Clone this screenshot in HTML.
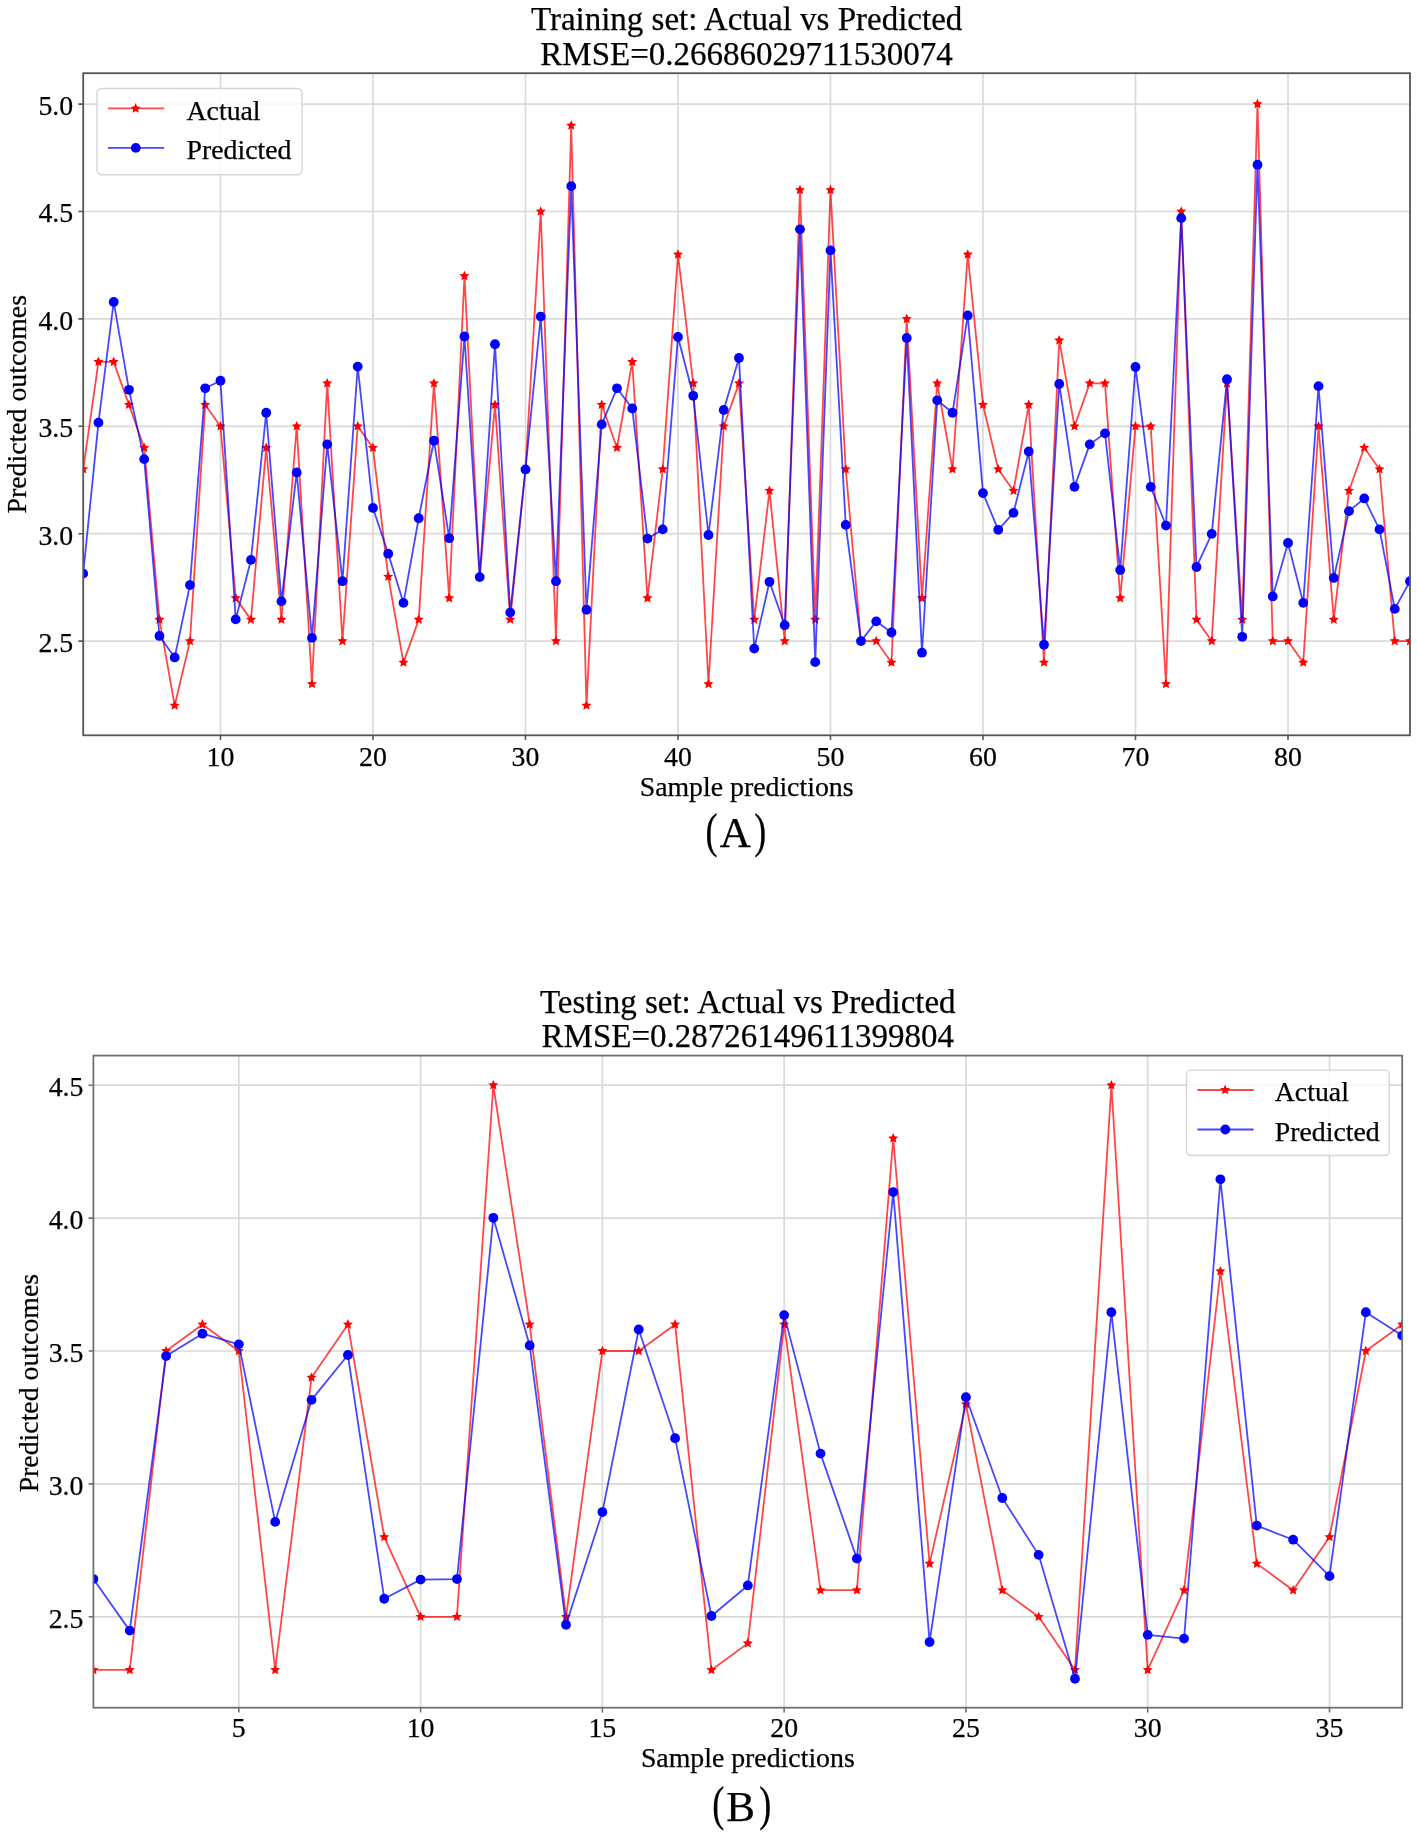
<!DOCTYPE html>
<html><head><meta charset="utf-8"><title>Actual vs Predicted</title>
<style>html,body{margin:0;padding:0;background:#fff;}body{width:1417px;height:1835px;overflow:hidden;font-family:"Liberation Serif",serif;}svg{display:block;filter:blur(0.45px);}text{stroke:#000;stroke-width:0.25px;}</style>
</head><body>
<svg width="1417" height="1835" viewBox="0 0 1417 1835" font-family='"Liberation Serif", serif' font-size="27.8" fill="#000">
<rect width="1417" height="1835" fill="#ffffff"/>
<clipPath id="ca"><rect x="83.2" y="73.2" width="1326.8" height="662.0999999999999"/></clipPath>
<path d="M220.46,73.2V735.3M372.96,73.2V735.3M525.47,73.2V735.3M677.97,73.2V735.3M830.48,73.2V735.3M982.98,73.2V735.3M1135.49,73.2V735.3M1288.00,73.2V735.3M83.2,641.10H1410.0M83.2,533.70H1410.0M83.2,426.30H1410.0M83.2,318.90H1410.0M83.2,211.50H1410.0M83.2,104.10H1410.0" stroke="#b0b0b0" stroke-opacity="0.47" stroke-width="1.7" fill="none"/>
<g clip-path="url(#ca)"><path d="M83.20,469.26L98.45,361.86L113.70,361.86L128.95,404.82L144.20,447.78L159.45,619.62L174.70,705.54L189.95,641.10L205.20,404.82L220.46,426.30L235.71,598.14L250.96,619.62L266.21,447.78L281.46,619.62L296.71,426.30L311.96,684.06L327.21,383.34L342.46,641.10L357.71,426.30L372.96,447.78L388.21,576.66L403.46,662.58L418.71,619.62L433.96,383.34L449.21,598.14L464.46,275.94L479.71,576.66L494.97,404.82L510.22,619.62L525.47,469.26L540.72,211.50L555.97,641.10L571.22,125.58L586.47,705.54L601.72,404.82L616.97,447.78L632.22,361.86L647.47,598.14L662.72,469.26L677.97,254.46L693.22,383.34L708.47,684.06L723.72,426.30L738.97,383.34L754.23,619.62L769.48,490.74L784.73,641.10L799.98,190.02L815.23,619.62L830.48,190.02L845.73,469.26L860.98,641.10L876.23,641.10L891.48,662.58L906.73,318.90L921.98,598.14L937.23,383.34L952.48,469.26L967.73,254.46L982.98,404.82L998.23,469.26L1013.49,490.74L1028.74,404.82L1043.99,662.58L1059.24,340.38L1074.49,426.30L1089.74,383.34L1104.99,383.34L1120.24,598.14L1135.49,426.30L1150.74,426.30L1165.99,684.06L1181.24,211.50L1196.49,619.62L1211.74,641.10L1226.99,383.34L1242.24,619.62L1257.49,104.10L1272.74,641.10L1288.00,641.10L1303.25,662.58L1318.50,426.30L1333.75,619.62L1349.00,490.74L1364.25,447.78L1379.50,469.26L1394.75,641.10L1410.00,641.10" stroke="#ff0000" stroke-opacity="0.72" stroke-width="1.8" fill="none" stroke-linejoin="round"/><path d="M83.20,463.96L84.66,467.24L88.24,467.62L85.57,470.03L86.32,473.55L83.20,471.75L80.08,473.55L80.83,470.03L78.16,467.62L81.74,467.24ZM98.45,356.56L99.91,359.84L103.49,360.22L100.82,362.63L101.57,366.15L98.45,364.35L95.34,366.15L96.08,362.63L93.41,360.22L96.99,359.84ZM113.70,356.56L115.17,359.84L118.74,360.22L116.07,362.63L116.82,366.15L113.70,364.35L110.59,366.15L111.33,362.63L108.66,360.22L112.24,359.84ZM128.95,399.52L130.42,402.80L133.99,403.18L131.32,405.59L132.07,409.11L128.95,407.31L125.84,409.11L126.58,405.59L123.91,403.18L127.49,402.80ZM144.20,442.48L145.67,445.76L149.24,446.14L146.57,448.55L147.32,452.07L144.20,450.27L141.09,452.07L141.83,448.55L139.16,446.14L142.74,445.76ZM159.45,614.32L160.92,617.60L164.49,617.98L161.82,620.39L162.57,623.91L159.45,622.11L156.34,623.91L157.08,620.39L154.41,617.98L157.99,617.60ZM174.70,700.24L176.17,703.52L179.74,703.90L177.07,706.31L177.82,709.83L174.70,708.03L171.59,709.83L172.33,706.31L169.66,703.90L173.24,703.52ZM189.95,635.80L191.42,639.08L194.99,639.46L192.32,641.87L193.07,645.39L189.95,643.59L186.84,645.39L187.58,641.87L184.91,639.46L188.49,639.08ZM205.20,399.52L206.67,402.80L210.25,403.18L207.57,405.59L208.32,409.11L205.20,407.31L202.09,409.11L202.84,405.59L200.16,403.18L203.74,402.80ZM220.46,421.00L221.92,424.28L225.50,424.66L222.82,427.07L223.57,430.59L220.46,428.79L217.34,430.59L218.09,427.07L215.41,424.66L218.99,424.28ZM235.71,592.84L237.17,596.12L240.75,596.50L238.07,598.91L238.82,602.43L235.71,600.63L232.59,602.43L233.34,598.91L230.67,596.50L234.24,596.12ZM250.96,614.32L252.42,617.60L256.00,617.98L253.33,620.39L254.07,623.91L250.96,622.11L247.84,623.91L248.59,620.39L245.92,617.98L249.49,617.60ZM266.21,442.48L267.67,445.76L271.25,446.14L268.58,448.55L269.32,452.07L266.21,450.27L263.09,452.07L263.84,448.55L261.17,446.14L264.74,445.76ZM281.46,614.32L282.92,617.60L286.50,617.98L283.83,620.39L284.57,623.91L281.46,622.11L278.34,623.91L279.09,620.39L276.42,617.98L279.99,617.60ZM296.71,421.00L298.17,424.28L301.75,424.66L299.08,427.07L299.82,430.59L296.71,428.79L293.59,430.59L294.34,427.07L291.67,424.66L295.24,424.28ZM311.96,678.76L313.42,682.04L317.00,682.42L314.33,684.83L315.07,688.35L311.96,686.55L308.84,688.35L309.59,684.83L306.92,682.42L310.49,682.04ZM327.21,378.04L328.67,381.32L332.25,381.70L329.58,384.11L330.32,387.63L327.21,385.83L324.09,387.63L324.84,384.11L322.17,381.70L325.75,381.32ZM342.46,635.80L343.92,639.08L347.50,639.46L344.83,641.87L345.58,645.39L342.46,643.59L339.34,645.39L340.09,641.87L337.42,639.46L341.00,639.08ZM357.71,421.00L359.17,424.28L362.75,424.66L360.08,427.07L360.83,430.59L357.71,428.79L354.60,430.59L355.34,427.07L352.67,424.66L356.25,424.28ZM372.96,442.48L374.43,445.76L378.00,446.14L375.33,448.55L376.08,452.07L372.96,450.27L369.85,452.07L370.59,448.55L367.92,446.14L371.50,445.76ZM388.21,571.36L389.68,574.64L393.25,575.02L390.58,577.43L391.33,580.95L388.21,579.15L385.10,580.95L385.84,577.43L383.17,575.02L386.75,574.64ZM403.46,657.28L404.93,660.56L408.50,660.94L405.83,663.35L406.58,666.87L403.46,665.07L400.35,666.87L401.09,663.35L398.42,660.94L402.00,660.56ZM418.71,614.32L420.18,617.60L423.75,617.98L421.08,620.39L421.83,623.91L418.71,622.11L415.60,623.91L416.34,620.39L413.67,617.98L417.25,617.60ZM433.96,378.04L435.43,381.32L439.00,381.70L436.33,384.11L437.08,387.63L433.96,385.83L430.85,387.63L431.59,384.11L428.92,381.70L432.50,381.32ZM449.21,592.84L450.68,596.12L454.25,596.50L451.58,598.91L452.33,602.43L449.21,600.63L446.10,602.43L446.84,598.91L444.17,596.50L447.75,596.12ZM464.46,270.64L465.93,273.92L469.50,274.30L466.83,276.71L467.58,280.23L464.46,278.43L461.35,280.23L462.10,276.71L459.42,274.30L463.00,273.92ZM479.71,571.36L481.18,574.64L484.76,575.02L482.08,577.43L482.83,580.95L479.71,579.15L476.60,580.95L477.35,577.43L474.67,575.02L478.25,574.64ZM494.97,399.52L496.43,402.80L500.01,403.18L497.33,405.59L498.08,409.11L494.97,407.31L491.85,409.11L492.60,405.59L489.92,403.18L493.50,402.80ZM510.22,614.32L511.68,617.60L515.26,617.98L512.59,620.39L513.33,623.91L510.22,622.11L507.10,623.91L507.85,620.39L505.18,617.98L508.75,617.60ZM525.47,463.96L526.93,467.24L530.51,467.62L527.84,470.03L528.58,473.55L525.47,471.75L522.35,473.55L523.10,470.03L520.43,467.62L524.00,467.24ZM540.72,206.20L542.18,209.48L545.76,209.86L543.09,212.27L543.83,215.79L540.72,213.99L537.60,215.79L538.35,212.27L535.68,209.86L539.25,209.48ZM555.97,635.80L557.43,639.08L561.01,639.46L558.34,641.87L559.08,645.39L555.97,643.59L552.85,645.39L553.60,641.87L550.93,639.46L554.50,639.08ZM571.22,120.28L572.68,123.56L576.26,123.94L573.59,126.35L574.33,129.87L571.22,128.07L568.10,129.87L568.85,126.35L566.18,123.94L569.75,123.56ZM586.47,700.24L587.93,703.52L591.51,703.90L588.84,706.31L589.58,709.83L586.47,708.03L583.35,709.83L584.10,706.31L581.43,703.90L585.00,703.52ZM601.72,399.52L603.18,402.80L606.76,403.18L604.09,405.59L604.83,409.11L601.72,407.31L598.60,409.11L599.35,405.59L596.68,403.18L600.26,402.80ZM616.97,442.48L618.43,445.76L622.01,446.14L619.34,448.55L620.09,452.07L616.97,450.27L613.85,452.07L614.60,448.55L611.93,446.14L615.51,445.76ZM632.22,356.56L633.68,359.84L637.26,360.22L634.59,362.63L635.34,366.15L632.22,364.35L629.11,366.15L629.85,362.63L627.18,360.22L630.76,359.84ZM647.47,592.84L648.94,596.12L652.51,596.50L649.84,598.91L650.59,602.43L647.47,600.63L644.36,602.43L645.10,598.91L642.43,596.50L646.01,596.12ZM662.72,463.96L664.19,467.24L667.76,467.62L665.09,470.03L665.84,473.55L662.72,471.75L659.61,473.55L660.35,470.03L657.68,467.62L661.26,467.24ZM677.97,249.16L679.44,252.44L683.01,252.82L680.34,255.23L681.09,258.75L677.97,256.95L674.86,258.75L675.60,255.23L672.93,252.82L676.51,252.44ZM693.22,378.04L694.69,381.32L698.26,381.70L695.59,384.11L696.34,387.63L693.22,385.83L690.11,387.63L690.85,384.11L688.18,381.70L691.76,381.32ZM708.47,678.76L709.94,682.04L713.51,682.42L710.84,684.83L711.59,688.35L708.47,686.55L705.36,688.35L706.10,684.83L703.43,682.42L707.01,682.04ZM723.72,421.00L725.19,424.28L728.76,424.66L726.09,427.07L726.84,430.59L723.72,428.79L720.61,430.59L721.36,427.07L718.68,424.66L722.26,424.28ZM738.97,378.04L740.44,381.32L744.02,381.70L741.34,384.11L742.09,387.63L738.97,385.83L735.86,387.63L736.61,384.11L733.93,381.70L737.51,381.32ZM754.23,614.32L755.69,617.60L759.27,617.98L756.59,620.39L757.34,623.91L754.23,622.11L751.11,623.91L751.86,620.39L749.18,617.98L752.76,617.60ZM769.48,485.44L770.94,488.72L774.52,489.10L771.84,491.51L772.59,495.03L769.48,493.23L766.36,495.03L767.11,491.51L764.44,489.10L768.01,488.72ZM784.73,635.80L786.19,639.08L789.77,639.46L787.10,641.87L787.84,645.39L784.73,643.59L781.61,645.39L782.36,641.87L779.69,639.46L783.26,639.08ZM799.98,184.72L801.44,188.00L805.02,188.38L802.35,190.79L803.09,194.31L799.98,192.51L796.86,194.31L797.61,190.79L794.94,188.38L798.51,188.00ZM815.23,614.32L816.69,617.60L820.27,617.98L817.60,620.39L818.34,623.91L815.23,622.11L812.11,623.91L812.86,620.39L810.19,617.98L813.76,617.60ZM830.48,184.72L831.94,188.00L835.52,188.38L832.85,190.79L833.59,194.31L830.48,192.51L827.36,194.31L828.11,190.79L825.44,188.38L829.01,188.00ZM845.73,463.96L847.19,467.24L850.77,467.62L848.10,470.03L848.84,473.55L845.73,471.75L842.61,473.55L843.36,470.03L840.69,467.62L844.26,467.24ZM860.98,635.80L862.44,639.08L866.02,639.46L863.35,641.87L864.09,645.39L860.98,643.59L857.86,645.39L858.61,641.87L855.94,639.46L859.52,639.08ZM876.23,635.80L877.69,639.08L881.27,639.46L878.60,641.87L879.35,645.39L876.23,643.59L873.11,645.39L873.86,641.87L871.19,639.46L874.77,639.08ZM891.48,657.28L892.94,660.56L896.52,660.94L893.85,663.35L894.60,666.87L891.48,665.07L888.37,666.87L889.11,663.35L886.44,660.94L890.02,660.56ZM906.73,313.60L908.20,316.88L911.77,317.26L909.10,319.67L909.85,323.19L906.73,321.39L903.62,323.19L904.36,319.67L901.69,317.26L905.27,316.88ZM921.98,592.84L923.45,596.12L927.02,596.50L924.35,598.91L925.10,602.43L921.98,600.63L918.87,602.43L919.61,598.91L916.94,596.50L920.52,596.12ZM937.23,378.04L938.70,381.32L942.27,381.70L939.60,384.11L940.35,387.63L937.23,385.83L934.12,387.63L934.86,384.11L932.19,381.70L935.77,381.32ZM952.48,463.96L953.95,467.24L957.52,467.62L954.85,470.03L955.60,473.55L952.48,471.75L949.37,473.55L950.11,470.03L947.44,467.62L951.02,467.24ZM967.73,249.16L969.20,252.44L972.77,252.82L970.10,255.23L970.85,258.75L967.73,256.95L964.62,258.75L965.36,255.23L962.69,252.82L966.27,252.44ZM982.98,399.52L984.45,402.80L988.02,403.18L985.35,405.59L986.10,409.11L982.98,407.31L979.87,409.11L980.61,405.59L977.94,403.18L981.52,402.80ZM998.23,463.96L999.70,467.24L1003.28,467.62L1000.60,470.03L1001.35,473.55L998.23,471.75L995.12,473.55L995.87,470.03L993.19,467.62L996.77,467.24ZM1013.49,485.44L1014.95,488.72L1018.53,489.10L1015.85,491.51L1016.60,495.03L1013.49,493.23L1010.37,495.03L1011.12,491.51L1008.44,489.10L1012.02,488.72ZM1028.74,399.52L1030.20,402.80L1033.78,403.18L1031.10,405.59L1031.85,409.11L1028.74,407.31L1025.62,409.11L1026.37,405.59L1023.70,403.18L1027.27,402.80ZM1043.99,657.28L1045.45,660.56L1049.03,660.94L1046.36,663.35L1047.10,666.87L1043.99,665.07L1040.87,666.87L1041.62,663.35L1038.95,660.94L1042.52,660.56ZM1059.24,335.08L1060.70,338.36L1064.28,338.74L1061.61,341.15L1062.35,344.67L1059.24,342.87L1056.12,344.67L1056.87,341.15L1054.20,338.74L1057.77,338.36ZM1074.49,421.00L1075.95,424.28L1079.53,424.66L1076.86,427.07L1077.60,430.59L1074.49,428.79L1071.37,430.59L1072.12,427.07L1069.45,424.66L1073.02,424.28ZM1089.74,378.04L1091.20,381.32L1094.78,381.70L1092.11,384.11L1092.85,387.63L1089.74,385.83L1086.62,387.63L1087.37,384.11L1084.70,381.70L1088.27,381.32ZM1104.99,378.04L1106.45,381.32L1110.03,381.70L1107.36,384.11L1108.10,387.63L1104.99,385.83L1101.87,387.63L1102.62,384.11L1099.95,381.70L1103.52,381.32ZM1120.24,592.84L1121.70,596.12L1125.28,596.50L1122.61,598.91L1123.35,602.43L1120.24,600.63L1117.12,602.43L1117.87,598.91L1115.20,596.50L1118.77,596.12ZM1135.49,421.00L1136.95,424.28L1140.53,424.66L1137.86,427.07L1138.60,430.59L1135.49,428.79L1132.37,430.59L1133.12,427.07L1130.45,424.66L1134.03,424.28ZM1150.74,421.00L1152.20,424.28L1155.78,424.66L1153.11,427.07L1153.86,430.59L1150.74,428.79L1147.62,430.59L1148.37,427.07L1145.70,424.66L1149.28,424.28ZM1165.99,678.76L1167.45,682.04L1171.03,682.42L1168.36,684.83L1169.11,688.35L1165.99,686.55L1162.88,688.35L1163.62,684.83L1160.95,682.42L1164.53,682.04ZM1181.24,206.20L1182.71,209.48L1186.28,209.86L1183.61,212.27L1184.36,215.79L1181.24,213.99L1178.13,215.79L1178.87,212.27L1176.20,209.86L1179.78,209.48ZM1196.49,614.32L1197.96,617.60L1201.53,617.98L1198.86,620.39L1199.61,623.91L1196.49,622.11L1193.38,623.91L1194.12,620.39L1191.45,617.98L1195.03,617.60ZM1211.74,635.80L1213.21,639.08L1216.78,639.46L1214.11,641.87L1214.86,645.39L1211.74,643.59L1208.63,645.39L1209.37,641.87L1206.70,639.46L1210.28,639.08ZM1226.99,378.04L1228.46,381.32L1232.03,381.70L1229.36,384.11L1230.11,387.63L1226.99,385.83L1223.88,387.63L1224.62,384.11L1221.95,381.70L1225.53,381.32ZM1242.24,614.32L1243.71,617.60L1247.28,617.98L1244.61,620.39L1245.36,623.91L1242.24,622.11L1239.13,623.91L1239.87,620.39L1237.20,617.98L1240.78,617.60ZM1257.49,98.80L1258.96,102.08L1262.53,102.46L1259.86,104.87L1260.61,108.39L1257.49,106.59L1254.38,108.39L1255.13,104.87L1252.45,102.46L1256.03,102.08ZM1272.74,635.80L1274.21,639.08L1277.79,639.46L1275.11,641.87L1275.86,645.39L1272.74,643.59L1269.63,645.39L1270.38,641.87L1267.70,639.46L1271.28,639.08ZM1288.00,635.80L1289.46,639.08L1293.04,639.46L1290.36,641.87L1291.11,645.39L1288.00,643.59L1284.88,645.39L1285.63,641.87L1282.95,639.46L1286.53,639.08ZM1303.25,657.28L1304.71,660.56L1308.29,660.94L1305.62,663.35L1306.36,666.87L1303.25,665.07L1300.13,666.87L1300.88,663.35L1298.21,660.94L1301.78,660.56ZM1318.50,421.00L1319.96,424.28L1323.54,424.66L1320.87,427.07L1321.61,430.59L1318.50,428.79L1315.38,430.59L1316.13,427.07L1313.46,424.66L1317.03,424.28ZM1333.75,614.32L1335.21,617.60L1338.79,617.98L1336.12,620.39L1336.86,623.91L1333.75,622.11L1330.63,623.91L1331.38,620.39L1328.71,617.98L1332.28,617.60ZM1349.00,485.44L1350.46,488.72L1354.04,489.10L1351.37,491.51L1352.11,495.03L1349.00,493.23L1345.88,495.03L1346.63,491.51L1343.96,489.10L1347.53,488.72ZM1364.25,442.48L1365.71,445.76L1369.29,446.14L1366.62,448.55L1367.36,452.07L1364.25,450.27L1361.13,452.07L1361.88,448.55L1359.21,446.14L1362.78,445.76ZM1379.50,463.96L1380.96,467.24L1384.54,467.62L1381.87,470.03L1382.61,473.55L1379.50,471.75L1376.38,473.55L1377.13,470.03L1374.46,467.62L1378.03,467.24ZM1394.75,635.80L1396.21,639.08L1399.79,639.46L1397.12,641.87L1397.86,645.39L1394.75,643.59L1391.63,645.39L1392.38,641.87L1389.71,639.46L1393.29,639.08ZM1410.00,635.80L1411.46,639.08L1415.04,639.46L1412.37,641.87L1413.12,645.39L1410.00,643.59L1406.88,645.39L1407.63,641.87L1404.96,639.46L1408.54,639.08Z" fill="#ff0000"/></g>
<g clip-path="url(#ca)"><path d="M83.20,573.65L98.45,422.65L113.70,301.93L128.95,389.78L144.20,459.16L159.45,635.94L174.70,657.42L189.95,585.04L205.20,388.28L220.46,380.76L235.71,619.41L250.96,559.91L266.21,412.77L281.46,601.36L296.71,472.48L311.96,637.88L327.21,444.34L342.46,581.17L357.71,366.59L372.96,507.92L388.21,553.68L403.46,602.87L418.71,518.23L433.96,440.69L449.21,538.21L464.46,336.51L479.71,577.09L494.97,344.25L510.22,612.53L525.47,469.47L540.72,316.54L555.97,581.17L571.22,186.15L586.47,609.74L601.72,424.37L616.97,388.28L632.22,408.47L647.47,538.64L662.72,529.40L677.97,336.94L693.22,395.80L708.47,534.99L723.72,409.98L738.97,357.99L754.23,648.62L769.48,581.82L784.73,625.20L799.98,229.33L815.23,662.15L830.48,250.38L845.73,524.89L860.98,641.10L876.23,621.34L891.48,632.51L906.73,338.02L921.98,652.70L937.23,400.31L952.48,412.77L967.73,315.46L982.98,493.10L998.23,529.83L1013.49,512.86L1028.74,451.43L1043.99,644.75L1059.24,383.98L1074.49,486.87L1089.74,444.34L1104.99,433.39L1120.24,570.00L1135.49,367.02L1150.74,486.87L1165.99,525.54L1181.24,218.16L1196.49,566.99L1211.74,533.91L1226.99,379.26L1242.24,636.80L1257.49,164.67L1272.74,596.42L1288.00,542.94L1303.25,602.87L1318.50,386.13L1333.75,577.95L1349.00,511.15L1364.25,498.47L1379.50,529.40L1394.75,608.88L1410.00,581.17" stroke="#0000ff" stroke-opacity="0.72" stroke-width="1.8" fill="none" stroke-linejoin="round"/><circle cx="83.20" cy="573.65" r="4.9" fill="#0000ff"/><circle cx="98.45" cy="422.65" r="4.9" fill="#0000ff"/><circle cx="113.70" cy="301.93" r="4.9" fill="#0000ff"/><circle cx="128.95" cy="389.78" r="4.9" fill="#0000ff"/><circle cx="144.20" cy="459.16" r="4.9" fill="#0000ff"/><circle cx="159.45" cy="635.94" r="4.9" fill="#0000ff"/><circle cx="174.70" cy="657.42" r="4.9" fill="#0000ff"/><circle cx="189.95" cy="585.04" r="4.9" fill="#0000ff"/><circle cx="205.20" cy="388.28" r="4.9" fill="#0000ff"/><circle cx="220.46" cy="380.76" r="4.9" fill="#0000ff"/><circle cx="235.71" cy="619.41" r="4.9" fill="#0000ff"/><circle cx="250.96" cy="559.91" r="4.9" fill="#0000ff"/><circle cx="266.21" cy="412.77" r="4.9" fill="#0000ff"/><circle cx="281.46" cy="601.36" r="4.9" fill="#0000ff"/><circle cx="296.71" cy="472.48" r="4.9" fill="#0000ff"/><circle cx="311.96" cy="637.88" r="4.9" fill="#0000ff"/><circle cx="327.21" cy="444.34" r="4.9" fill="#0000ff"/><circle cx="342.46" cy="581.17" r="4.9" fill="#0000ff"/><circle cx="357.71" cy="366.59" r="4.9" fill="#0000ff"/><circle cx="372.96" cy="507.92" r="4.9" fill="#0000ff"/><circle cx="388.21" cy="553.68" r="4.9" fill="#0000ff"/><circle cx="403.46" cy="602.87" r="4.9" fill="#0000ff"/><circle cx="418.71" cy="518.23" r="4.9" fill="#0000ff"/><circle cx="433.96" cy="440.69" r="4.9" fill="#0000ff"/><circle cx="449.21" cy="538.21" r="4.9" fill="#0000ff"/><circle cx="464.46" cy="336.51" r="4.9" fill="#0000ff"/><circle cx="479.71" cy="577.09" r="4.9" fill="#0000ff"/><circle cx="494.97" cy="344.25" r="4.9" fill="#0000ff"/><circle cx="510.22" cy="612.53" r="4.9" fill="#0000ff"/><circle cx="525.47" cy="469.47" r="4.9" fill="#0000ff"/><circle cx="540.72" cy="316.54" r="4.9" fill="#0000ff"/><circle cx="555.97" cy="581.17" r="4.9" fill="#0000ff"/><circle cx="571.22" cy="186.15" r="4.9" fill="#0000ff"/><circle cx="586.47" cy="609.74" r="4.9" fill="#0000ff"/><circle cx="601.72" cy="424.37" r="4.9" fill="#0000ff"/><circle cx="616.97" cy="388.28" r="4.9" fill="#0000ff"/><circle cx="632.22" cy="408.47" r="4.9" fill="#0000ff"/><circle cx="647.47" cy="538.64" r="4.9" fill="#0000ff"/><circle cx="662.72" cy="529.40" r="4.9" fill="#0000ff"/><circle cx="677.97" cy="336.94" r="4.9" fill="#0000ff"/><circle cx="693.22" cy="395.80" r="4.9" fill="#0000ff"/><circle cx="708.47" cy="534.99" r="4.9" fill="#0000ff"/><circle cx="723.72" cy="409.98" r="4.9" fill="#0000ff"/><circle cx="738.97" cy="357.99" r="4.9" fill="#0000ff"/><circle cx="754.23" cy="648.62" r="4.9" fill="#0000ff"/><circle cx="769.48" cy="581.82" r="4.9" fill="#0000ff"/><circle cx="784.73" cy="625.20" r="4.9" fill="#0000ff"/><circle cx="799.98" cy="229.33" r="4.9" fill="#0000ff"/><circle cx="815.23" cy="662.15" r="4.9" fill="#0000ff"/><circle cx="830.48" cy="250.38" r="4.9" fill="#0000ff"/><circle cx="845.73" cy="524.89" r="4.9" fill="#0000ff"/><circle cx="860.98" cy="641.10" r="4.9" fill="#0000ff"/><circle cx="876.23" cy="621.34" r="4.9" fill="#0000ff"/><circle cx="891.48" cy="632.51" r="4.9" fill="#0000ff"/><circle cx="906.73" cy="338.02" r="4.9" fill="#0000ff"/><circle cx="921.98" cy="652.70" r="4.9" fill="#0000ff"/><circle cx="937.23" cy="400.31" r="4.9" fill="#0000ff"/><circle cx="952.48" cy="412.77" r="4.9" fill="#0000ff"/><circle cx="967.73" cy="315.46" r="4.9" fill="#0000ff"/><circle cx="982.98" cy="493.10" r="4.9" fill="#0000ff"/><circle cx="998.23" cy="529.83" r="4.9" fill="#0000ff"/><circle cx="1013.49" cy="512.86" r="4.9" fill="#0000ff"/><circle cx="1028.74" cy="451.43" r="4.9" fill="#0000ff"/><circle cx="1043.99" cy="644.75" r="4.9" fill="#0000ff"/><circle cx="1059.24" cy="383.98" r="4.9" fill="#0000ff"/><circle cx="1074.49" cy="486.87" r="4.9" fill="#0000ff"/><circle cx="1089.74" cy="444.34" r="4.9" fill="#0000ff"/><circle cx="1104.99" cy="433.39" r="4.9" fill="#0000ff"/><circle cx="1120.24" cy="570.00" r="4.9" fill="#0000ff"/><circle cx="1135.49" cy="367.02" r="4.9" fill="#0000ff"/><circle cx="1150.74" cy="486.87" r="4.9" fill="#0000ff"/><circle cx="1165.99" cy="525.54" r="4.9" fill="#0000ff"/><circle cx="1181.24" cy="218.16" r="4.9" fill="#0000ff"/><circle cx="1196.49" cy="566.99" r="4.9" fill="#0000ff"/><circle cx="1211.74" cy="533.91" r="4.9" fill="#0000ff"/><circle cx="1226.99" cy="379.26" r="4.9" fill="#0000ff"/><circle cx="1242.24" cy="636.80" r="4.9" fill="#0000ff"/><circle cx="1257.49" cy="164.67" r="4.9" fill="#0000ff"/><circle cx="1272.74" cy="596.42" r="4.9" fill="#0000ff"/><circle cx="1288.00" cy="542.94" r="4.9" fill="#0000ff"/><circle cx="1303.25" cy="602.87" r="4.9" fill="#0000ff"/><circle cx="1318.50" cy="386.13" r="4.9" fill="#0000ff"/><circle cx="1333.75" cy="577.95" r="4.9" fill="#0000ff"/><circle cx="1349.00" cy="511.15" r="4.9" fill="#0000ff"/><circle cx="1364.25" cy="498.47" r="4.9" fill="#0000ff"/><circle cx="1379.50" cy="529.40" r="4.9" fill="#0000ff"/><circle cx="1394.75" cy="608.88" r="4.9" fill="#0000ff"/><circle cx="1410.00" cy="581.17" r="4.9" fill="#0000ff"/></g>
<rect x="83.2" y="73.2" width="1326.8" height="662.0999999999999" fill="none" stroke="#555555" stroke-width="1.8"/>
<path d="M220.46,735.3v4.8M372.96,735.3v4.8M525.47,735.3v4.8M677.97,735.3v4.8M830.48,735.3v4.8M982.98,735.3v4.8M1135.49,735.3v4.8M1288.00,735.3v4.8M83.2,641.10h-4.8M83.2,533.70h-4.8M83.2,426.30h-4.8M83.2,318.90h-4.8M83.2,211.50h-4.8M83.2,104.10h-4.8" stroke="#555555" stroke-width="1.6" fill="none"/>
<text x="220.46" y="766.20" text-anchor="middle">10</text>
<text x="372.96" y="766.20" text-anchor="middle">20</text>
<text x="525.47" y="766.20" text-anchor="middle">30</text>
<text x="677.97" y="766.20" text-anchor="middle">40</text>
<text x="830.48" y="766.20" text-anchor="middle">50</text>
<text x="982.98" y="766.20" text-anchor="middle">60</text>
<text x="1135.49" y="766.20" text-anchor="middle">70</text>
<text x="1288.00" y="766.20" text-anchor="middle">80</text>
<text x="73.20" y="651.90" text-anchor="end">2.5</text>
<text x="73.20" y="544.50" text-anchor="end">3.0</text>
<text x="73.20" y="437.10" text-anchor="end">3.5</text>
<text x="73.20" y="329.70" text-anchor="end">4.0</text>
<text x="73.20" y="222.30" text-anchor="end">4.5</text>
<text x="73.20" y="114.90" text-anchor="end">5.0</text>
<text x="746.60" y="796.10" text-anchor="middle">Sample predictions</text>
<text transform="translate(26.00,404.25) rotate(-90)" text-anchor="middle">Predicted outcomes</text>
<text x="746.60" y="30.10" text-anchor="middle" font-size="33">Training set: Actual vs Predicted</text>
<text x="746.60" y="65.40" text-anchor="middle" font-size="33">RMSE=0.26686029711530074</text>
<rect x="97.0" y="88.5" width="205.0" height="86.2" rx="4.5" ry="4.5" fill="#ffffff" fill-opacity="0.8" stroke="#d6d6d6" stroke-width="1.4"/>
<path d="M107.9,108.4h56.3" stroke="#ff0000" stroke-opacity="0.72" stroke-width="1.8"/>
<path d="M135.60,103.10L137.06,106.38L140.64,106.76L137.97,109.17L138.72,112.69L135.60,110.89L132.48,112.69L133.23,109.17L130.56,106.76L134.14,106.38Z" fill="#ff0000"/>
<path d="M107.9,147.9h56.3" stroke="#0000ff" stroke-opacity="0.72" stroke-width="1.8"/>
<circle cx="135.8" cy="147.9" r="4.9" fill="#0000ff"/>
<text x="186.5" y="119.7">Actual</text>
<text x="186.5" y="159.3">Predicted</text>
<text transform="translate(711.40,846.50) scale(0.76,1)" text-anchor="middle" font-size="47.5">(</text>
<text x="735.35" y="847.20" text-anchor="middle" font-size="43">A</text>
<text transform="translate(760.20,846.50) scale(0.76,1)" text-anchor="middle" font-size="47.5">)</text>
<clipPath id="cb"><rect x="93.4" y="1055.6" width="1308.8" height="652.1000000000001"/></clipPath>
<path d="M238.82,1055.6V1707.7M420.60,1055.6V1707.7M602.38,1055.6V1707.7M784.16,1055.6V1707.7M965.93,1055.6V1707.7M1147.71,1055.6V1707.7M1329.49,1055.6V1707.7M93.4,1616.80H1402.2M93.4,1483.90H1402.2M93.4,1351.00H1402.2M93.4,1218.10H1402.2M93.4,1085.20H1402.2" stroke="#b0b0b0" stroke-opacity="0.47" stroke-width="1.7" fill="none"/>
<g clip-path="url(#cb)"><path d="M93.40,1669.96L129.76,1669.96L166.11,1351.00L202.47,1324.42L238.82,1351.00L275.18,1669.96L311.53,1377.58L347.89,1324.42L384.24,1537.06L420.60,1616.80L456.96,1616.80L493.31,1085.20L529.67,1324.42L566.02,1616.80L602.38,1351.00L638.73,1351.00L675.09,1324.42L711.44,1669.96L747.80,1643.38L784.16,1324.42L820.51,1590.22L856.87,1590.22L893.22,1138.36L929.58,1563.64L965.93,1404.16L1002.29,1590.22L1038.64,1616.80L1075.00,1669.96L1111.36,1085.20L1147.71,1669.96L1184.07,1590.22L1220.42,1271.26L1256.78,1563.64L1293.13,1590.22L1329.49,1537.06L1365.84,1351.00L1402.20,1324.42" stroke="#ff0000" stroke-opacity="0.72" stroke-width="1.8" fill="none" stroke-linejoin="round"/><path d="M93.40,1664.66L94.86,1667.94L98.44,1668.32L95.77,1670.73L96.52,1674.25L93.40,1672.45L90.28,1674.25L91.03,1670.73L88.36,1668.32L91.94,1667.94ZM129.76,1664.66L131.22,1667.94L134.80,1668.32L132.12,1670.73L132.87,1674.25L129.76,1672.45L126.64,1674.25L127.39,1670.73L124.71,1668.32L128.29,1667.94ZM166.11,1345.70L167.58,1348.98L171.15,1349.36L168.48,1351.77L169.23,1355.29L166.11,1353.49L163.00,1355.29L163.74,1351.77L161.07,1349.36L164.65,1348.98ZM202.47,1319.12L203.93,1322.40L207.51,1322.78L204.84,1325.19L205.58,1328.71L202.47,1326.91L199.35,1328.71L200.10,1325.19L197.43,1322.78L201.00,1322.40ZM238.82,1345.70L240.29,1348.98L243.86,1349.36L241.19,1351.77L241.94,1355.29L238.82,1353.49L235.71,1355.29L236.45,1351.77L233.78,1349.36L237.36,1348.98ZM275.18,1664.66L276.64,1667.94L280.22,1668.32L277.55,1670.73L278.29,1674.25L275.18,1672.45L272.06,1674.25L272.81,1670.73L270.14,1668.32L273.71,1667.94ZM311.53,1372.28L313.00,1375.56L316.57,1375.94L313.90,1378.35L314.65,1381.87L311.53,1380.07L308.42,1381.87L309.16,1378.35L306.49,1375.94L310.07,1375.56ZM347.89,1319.12L349.35,1322.40L352.93,1322.78L350.26,1325.19L351.00,1328.71L347.89,1326.91L344.77,1328.71L345.52,1325.19L342.85,1322.78L346.42,1322.40ZM384.24,1531.76L385.71,1535.04L389.29,1535.42L386.61,1537.83L387.36,1541.35L384.24,1539.55L381.13,1541.35L381.88,1537.83L379.20,1535.42L382.78,1535.04ZM420.60,1611.50L422.06,1614.78L425.64,1615.16L422.97,1617.57L423.72,1621.09L420.60,1619.29L417.48,1621.09L418.23,1617.57L415.56,1615.16L419.14,1614.78ZM456.96,1611.50L458.42,1614.78L462.00,1615.16L459.32,1617.57L460.07,1621.09L456.96,1619.29L453.84,1621.09L454.59,1617.57L451.91,1615.16L455.49,1614.78ZM493.31,1079.90L494.78,1083.18L498.35,1083.56L495.68,1085.97L496.43,1089.49L493.31,1087.69L490.20,1089.49L490.94,1085.97L488.27,1083.56L491.85,1083.18ZM529.67,1319.12L531.13,1322.40L534.71,1322.78L532.04,1325.19L532.78,1328.71L529.67,1326.91L526.55,1328.71L527.30,1325.19L524.63,1322.78L528.20,1322.40ZM566.02,1611.50L567.49,1614.78L571.06,1615.16L568.39,1617.57L569.14,1621.09L566.02,1619.29L562.91,1621.09L563.65,1617.57L560.98,1615.16L564.56,1614.78ZM602.38,1345.70L603.84,1348.98L607.42,1349.36L604.75,1351.77L605.49,1355.29L602.38,1353.49L599.26,1355.29L600.01,1351.77L597.34,1349.36L600.91,1348.98ZM638.73,1345.70L640.20,1348.98L643.77,1349.36L641.10,1351.77L641.85,1355.29L638.73,1353.49L635.62,1355.29L636.36,1351.77L633.69,1349.36L637.27,1348.98ZM675.09,1319.12L676.55,1322.40L680.13,1322.78L677.46,1325.19L678.20,1328.71L675.09,1326.91L671.97,1328.71L672.72,1325.19L670.05,1322.78L673.62,1322.40ZM711.44,1664.66L712.91,1667.94L716.49,1668.32L713.81,1670.73L714.56,1674.25L711.44,1672.45L708.33,1674.25L709.08,1670.73L706.40,1668.32L709.98,1667.94ZM747.80,1638.08L749.26,1641.36L752.84,1641.74L750.17,1644.15L750.92,1647.67L747.80,1645.87L744.68,1647.67L745.43,1644.15L742.76,1641.74L746.34,1641.36ZM784.16,1319.12L785.62,1322.40L789.20,1322.78L786.52,1325.19L787.27,1328.71L784.16,1326.91L781.04,1328.71L781.79,1325.19L779.11,1322.78L782.69,1322.40ZM820.51,1584.92L821.98,1588.20L825.55,1588.58L822.88,1590.99L823.63,1594.51L820.51,1592.71L817.40,1594.51L818.14,1590.99L815.47,1588.58L819.05,1588.20ZM856.87,1584.92L858.33,1588.20L861.91,1588.58L859.24,1590.99L859.98,1594.51L856.87,1592.71L853.75,1594.51L854.50,1590.99L851.83,1588.58L855.40,1588.20ZM893.22,1133.06L894.69,1136.34L898.26,1136.72L895.59,1139.13L896.34,1142.65L893.22,1140.85L890.11,1142.65L890.85,1139.13L888.18,1136.72L891.76,1136.34ZM929.58,1558.34L931.04,1561.62L934.62,1562.00L931.95,1564.41L932.69,1567.93L929.58,1566.13L926.46,1567.93L927.21,1564.41L924.54,1562.00L928.11,1561.62ZM965.93,1398.86L967.40,1402.14L970.97,1402.52L968.30,1404.93L969.05,1408.45L965.93,1406.65L962.82,1408.45L963.56,1404.93L960.89,1402.52L964.47,1402.14ZM1002.29,1584.92L1003.75,1588.20L1007.33,1588.58L1004.66,1590.99L1005.40,1594.51L1002.29,1592.71L999.17,1594.51L999.92,1590.99L997.25,1588.58L1000.82,1588.20ZM1038.64,1611.50L1040.11,1614.78L1043.69,1615.16L1041.01,1617.57L1041.76,1621.09L1038.64,1619.29L1035.53,1621.09L1036.28,1617.57L1033.60,1615.16L1037.18,1614.78ZM1075.00,1664.66L1076.46,1667.94L1080.04,1668.32L1077.37,1670.73L1078.12,1674.25L1075.00,1672.45L1071.88,1674.25L1072.63,1670.73L1069.96,1668.32L1073.54,1667.94ZM1111.36,1079.90L1112.82,1083.18L1116.40,1083.56L1113.72,1085.97L1114.47,1089.49L1111.36,1087.69L1108.24,1089.49L1108.99,1085.97L1106.31,1083.56L1109.89,1083.18ZM1147.71,1664.66L1149.18,1667.94L1152.75,1668.32L1150.08,1670.73L1150.83,1674.25L1147.71,1672.45L1144.60,1674.25L1145.34,1670.73L1142.67,1668.32L1146.25,1667.94ZM1184.07,1584.92L1185.53,1588.20L1189.11,1588.58L1186.44,1590.99L1187.18,1594.51L1184.07,1592.71L1180.95,1594.51L1181.70,1590.99L1179.03,1588.58L1182.60,1588.20ZM1220.42,1265.96L1221.89,1269.24L1225.46,1269.62L1222.79,1272.03L1223.54,1275.55L1220.42,1273.75L1217.31,1275.55L1218.05,1272.03L1215.38,1269.62L1218.96,1269.24ZM1256.78,1558.34L1258.24,1561.62L1261.82,1562.00L1259.15,1564.41L1259.89,1567.93L1256.78,1566.13L1253.66,1567.93L1254.41,1564.41L1251.74,1562.00L1255.31,1561.62ZM1293.13,1584.92L1294.60,1588.20L1298.17,1588.58L1295.50,1590.99L1296.25,1594.51L1293.13,1592.71L1290.02,1594.51L1290.76,1590.99L1288.09,1588.58L1291.67,1588.20ZM1329.49,1531.76L1330.95,1535.04L1334.53,1535.42L1331.86,1537.83L1332.60,1541.35L1329.49,1539.55L1326.37,1541.35L1327.12,1537.83L1324.45,1535.42L1328.02,1535.04ZM1365.84,1345.70L1367.31,1348.98L1370.89,1349.36L1368.21,1351.77L1368.96,1355.29L1365.84,1353.49L1362.73,1355.29L1363.48,1351.77L1360.80,1349.36L1364.38,1348.98ZM1402.20,1319.12L1403.66,1322.40L1407.24,1322.78L1404.57,1325.19L1405.32,1328.71L1402.20,1326.91L1399.08,1328.71L1399.83,1325.19L1397.16,1322.78L1400.74,1322.40Z" fill="#ff0000"/></g>
<g clip-path="url(#cb)"><path d="M93.40,1579.06L129.76,1630.62L166.11,1356.05L202.47,1333.72L238.82,1344.36L275.18,1521.91L311.53,1399.91L347.89,1354.99L384.24,1598.73L420.60,1579.59L456.96,1579.06L493.31,1217.83L529.67,1345.42L566.02,1624.77L602.38,1512.07L638.73,1329.47L675.09,1438.18L711.44,1616.00L747.80,1585.44L784.16,1315.12L820.51,1453.60L856.87,1558.59L893.22,1192.05L929.58,1642.05L965.93,1397.25L1002.29,1497.99L1038.64,1554.87L1075.00,1678.73L1111.36,1312.19L1147.71,1634.87L1184.07,1638.60L1220.42,1179.29L1256.78,1525.63L1293.13,1539.72L1329.49,1576.13L1365.84,1312.19L1402.20,1335.58" stroke="#0000ff" stroke-opacity="0.72" stroke-width="1.8" fill="none" stroke-linejoin="round"/><circle cx="93.40" cy="1579.06" r="4.9" fill="#0000ff"/><circle cx="129.76" cy="1630.62" r="4.9" fill="#0000ff"/><circle cx="166.11" cy="1356.05" r="4.9" fill="#0000ff"/><circle cx="202.47" cy="1333.72" r="4.9" fill="#0000ff"/><circle cx="238.82" cy="1344.36" r="4.9" fill="#0000ff"/><circle cx="275.18" cy="1521.91" r="4.9" fill="#0000ff"/><circle cx="311.53" cy="1399.91" r="4.9" fill="#0000ff"/><circle cx="347.89" cy="1354.99" r="4.9" fill="#0000ff"/><circle cx="384.24" cy="1598.73" r="4.9" fill="#0000ff"/><circle cx="420.60" cy="1579.59" r="4.9" fill="#0000ff"/><circle cx="456.96" cy="1579.06" r="4.9" fill="#0000ff"/><circle cx="493.31" cy="1217.83" r="4.9" fill="#0000ff"/><circle cx="529.67" cy="1345.42" r="4.9" fill="#0000ff"/><circle cx="566.02" cy="1624.77" r="4.9" fill="#0000ff"/><circle cx="602.38" cy="1512.07" r="4.9" fill="#0000ff"/><circle cx="638.73" cy="1329.47" r="4.9" fill="#0000ff"/><circle cx="675.09" cy="1438.18" r="4.9" fill="#0000ff"/><circle cx="711.44" cy="1616.00" r="4.9" fill="#0000ff"/><circle cx="747.80" cy="1585.44" r="4.9" fill="#0000ff"/><circle cx="784.16" cy="1315.12" r="4.9" fill="#0000ff"/><circle cx="820.51" cy="1453.60" r="4.9" fill="#0000ff"/><circle cx="856.87" cy="1558.59" r="4.9" fill="#0000ff"/><circle cx="893.22" cy="1192.05" r="4.9" fill="#0000ff"/><circle cx="929.58" cy="1642.05" r="4.9" fill="#0000ff"/><circle cx="965.93" cy="1397.25" r="4.9" fill="#0000ff"/><circle cx="1002.29" cy="1497.99" r="4.9" fill="#0000ff"/><circle cx="1038.64" cy="1554.87" r="4.9" fill="#0000ff"/><circle cx="1075.00" cy="1678.73" r="4.9" fill="#0000ff"/><circle cx="1111.36" cy="1312.19" r="4.9" fill="#0000ff"/><circle cx="1147.71" cy="1634.87" r="4.9" fill="#0000ff"/><circle cx="1184.07" cy="1638.60" r="4.9" fill="#0000ff"/><circle cx="1220.42" cy="1179.29" r="4.9" fill="#0000ff"/><circle cx="1256.78" cy="1525.63" r="4.9" fill="#0000ff"/><circle cx="1293.13" cy="1539.72" r="4.9" fill="#0000ff"/><circle cx="1329.49" cy="1576.13" r="4.9" fill="#0000ff"/><circle cx="1365.84" cy="1312.19" r="4.9" fill="#0000ff"/><circle cx="1402.20" cy="1335.58" r="4.9" fill="#0000ff"/></g>
<rect x="93.4" y="1055.6" width="1308.8" height="652.1000000000001" fill="none" stroke="#707070" stroke-width="1.8"/>
<path d="M238.82,1707.7v4.8M420.60,1707.7v4.8M602.38,1707.7v4.8M784.16,1707.7v4.8M965.93,1707.7v4.8M1147.71,1707.7v4.8M1329.49,1707.7v4.8M93.4,1616.80h-4.8M93.4,1483.90h-4.8M93.4,1351.00h-4.8M93.4,1218.10h-4.8M93.4,1085.20h-4.8" stroke="#707070" stroke-width="1.6" fill="none"/>
<text x="238.82" y="1737.30" text-anchor="middle">5</text>
<text x="420.60" y="1737.30" text-anchor="middle">10</text>
<text x="602.38" y="1737.30" text-anchor="middle">15</text>
<text x="784.16" y="1737.30" text-anchor="middle">20</text>
<text x="965.93" y="1737.30" text-anchor="middle">25</text>
<text x="1147.71" y="1737.30" text-anchor="middle">30</text>
<text x="1329.49" y="1737.30" text-anchor="middle">35</text>
<text x="83.40" y="1627.60" text-anchor="end">2.5</text>
<text x="83.40" y="1494.70" text-anchor="end">3.0</text>
<text x="83.40" y="1361.80" text-anchor="end">3.5</text>
<text x="83.40" y="1228.90" text-anchor="end">4.0</text>
<text x="83.40" y="1096.00" text-anchor="end">4.5</text>
<text x="747.80" y="1767.40" text-anchor="middle">Sample predictions</text>
<text transform="translate(37.90,1383.15) rotate(-90)" text-anchor="middle">Predicted outcomes</text>
<text x="747.80" y="1013.00" text-anchor="middle" font-size="33">Testing set: Actual vs Predicted</text>
<text x="747.80" y="1047.30" text-anchor="middle" font-size="33">RMSE=0.28726149611399804</text>
<rect x="1186.5" y="1070.1" width="202.8" height="85.4" rx="4.5" ry="4.5" fill="#ffffff" fill-opacity="0.8" stroke="#d6d6d6" stroke-width="1.4"/>
<path d="M1197.4,1090.0h56.3" stroke="#ff0000" stroke-opacity="0.72" stroke-width="1.8"/>
<path d="M1225.10,1084.70L1226.56,1087.98L1230.14,1088.36L1227.47,1090.77L1228.22,1094.29L1225.10,1092.49L1221.98,1094.29L1222.73,1090.77L1220.06,1088.36L1223.64,1087.98Z" fill="#ff0000"/>
<path d="M1197.4,1129.5h56.3" stroke="#0000ff" stroke-opacity="0.72" stroke-width="1.8"/>
<circle cx="1225.3" cy="1129.5" r="4.9" fill="#0000ff"/>
<text x="1274.8" y="1101.3">Actual</text>
<text x="1274.8" y="1140.8999999999999">Predicted</text>
<text transform="translate(718.25,1819.80) scale(0.76,1)" text-anchor="middle" font-size="47.5">(</text>
<text x="740.65" y="1820.70" text-anchor="middle" font-size="43">B</text>
<text transform="translate(765.20,1819.80) scale(0.76,1)" text-anchor="middle" font-size="47.5">)</text>
</svg>
</body></html>
